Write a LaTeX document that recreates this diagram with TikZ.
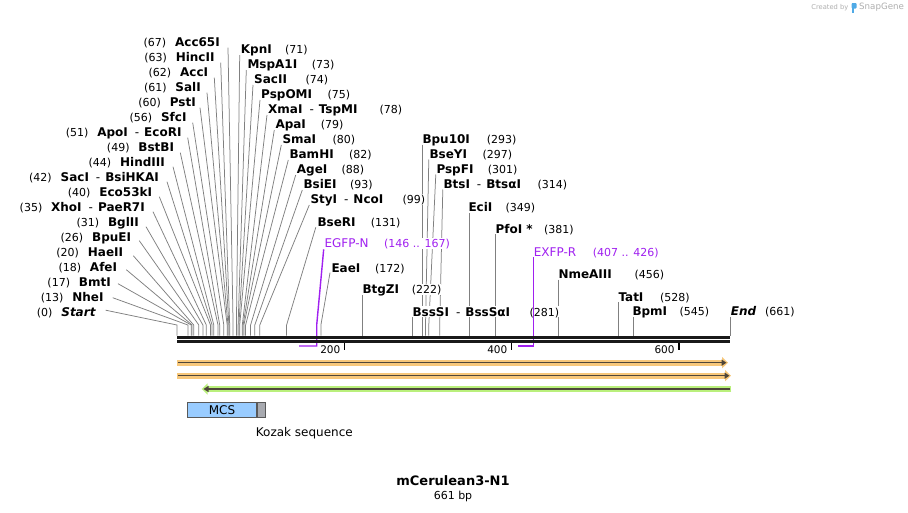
\documentclass[tikz,border=0pt]{standalone}
\usepackage{fontspec}
\setmainfont{DejaVu Sans}
\usetikzlibrary{arrows.meta,positioning,backgrounds}

\definecolor{sitegray}{RGB}{128,128,128}
\definecolor{primerviolet}{RGB}{160,32,240}
\definecolor{featorange}{RGB}{247,199,122}
\definecolor{featgreen}{RGB}{186,240,124}
\definecolor{featcore}{RGB}{78,70,58}
\definecolor{mcsblue}{RGB}{153,204,255}
\definecolor{kozakgray}{RGB}{168,170,176}
\definecolor{sgblue}{RGB}{80,170,230}
\definecolor{sggray}{RGB}{175,175,175}

\newcommand{\enzdash}{\hspace{7pt}{\mdseries -}\hspace{5pt}}

\tikzset{
    enz/.style    = {inner sep=0pt, fill=white, text height=10pt, text depth=1pt, font=\fontsize{12}{14}\selectfont\bfseries},
    enzL/.style   = {enz, anchor=east},
    enzR/.style   = {enz, anchor=west},
    bpnum/.style  = {inner sep=0pt, fill=white, text height=10pt, text depth=1pt, font=\fontsize{11}{13}\selectfont},
    bpnumR/.style = {bpnum, anchor=west},
    cut/.style    = {draw=sitegray, line width=0.75pt},
    primer/.style = {draw=primerviolet, line width=1.4pt},
    plabel/.style = {bpnum, anchor=west, text=primerviolet, font=\fontsize{12}{14}\selectfont},
    pnum/.style   = {bpnumR, text=primerviolet}
}

\begin{document}
\begin{tikzpicture}[x=1pt, y=-1pt,
        band/.style = {line width=6pt, -{Triangle[length=6pt, width=11pt]}},
        core/.style = {draw=featcore, line width=1.5pt, -{Triangle[length=5pt, width=6pt]}},
        rulertick/.style = {line width=1.6pt, draw=black},
        ticklbl/.style = {anchor=east, inner sep=0pt, text height=10pt, text depth=1pt, font=\fontsize{10.5}{12}\selectfont}
    ]
    \useasboundingbox (0,0) rectangle (908,512);

    % Cut sites on the sequence (x = 177 + 0.8366 * bp)
    \coordinate (s0) at (177.0,325);
    \coordinate (s13) at (187.9,325);
    \coordinate (s17) at (191.2,325);
    \coordinate (s18) at (192.1,325);
    \coordinate (s20) at (193.7,325);
    \coordinate (s26) at (198.8,325);
    \coordinate (s31) at (202.9,325);
    \coordinate (s35) at (206.3,325);
    \coordinate (s40) at (210.5,325);
    \coordinate (s42) at (212.1,325);
    \coordinate (s44) at (213.8,325);
    \coordinate (s49) at (218.0,325);
    \coordinate (s51) at (219.7,325);
    \coordinate (s56) at (223.8,325);
    \coordinate (s60) at (227.2,325);
    \coordinate (s61) at (228.0,325);
    \coordinate (s62) at (228.9,325);
    \coordinate (s63) at (229.7,325);
    \coordinate (s67) at (233.1,325);
    \coordinate (s71) at (236.4,325);
    \coordinate (s73) at (238.1,325);
    \coordinate (s74) at (238.9,325);
    \coordinate (s75) at (239.7,325);
    \coordinate (s78) at (242.3,325);
    \coordinate (s79) at (243.1,325);
    \coordinate (s80) at (243.9,325);
    \coordinate (s82) at (245.6,325);
    \coordinate (s88) at (250.6,325);
    \coordinate (s93) at (254.8,325);
    \coordinate (s99) at (259.8,325);
    \coordinate (s131) at (286.6,325);
    \coordinate (s172) at (320.9,325);
    \coordinate (s222) at (362.7,325);
    \coordinate (s281) at (412.1,325);
    \coordinate (s293) at (422.1,325);
    \coordinate (s297) at (425.5,325);
    \coordinate (s301) at (428.8,325);
    \coordinate (s314) at (439.7,325);
    \coordinate (s349) at (469.0,325);
    \coordinate (s381) at (495.7,325);
    \coordinate (s456) at (558.5,325);
    \coordinate (s528) at (618.7,325);
    \coordinate (s545) at (633.0,325);
    \coordinate (s661) at (730.0,325);
    \coordinate (bar) at (177,335.7);

    % Left stack (number, then name)
    \node[enzL] (seqstart) at (95.7,311.7) {\itshape Start};
    \node[enzL] (nheI) at (103.7,296.7) {NheI};
    \node[enzL] (bmtI) at (111,281.7) {BmtI};
    \node[enzL] (afeI) at (117.3,266.7) {AfeI};
    \node[enzL] (haeII) at (123.3,251.7) {HaeII};
    \node[enzL] (bpuEI) at (131.3,236.7) {BpuEI};
    \node[enzL] (bglII) at (139,221.7) {BglII};
    \node[enzL] (xhoI) at (145,206.7) {XhoI\enzdash PaeR7I};
    \node[enzL] (eco53kI) at (152.3,191.7) {Eco53kI};
    \node[enzL] (sacI) at (159,176.7) {SacI\enzdash BsiHKAI};
    \node[enzL] (hindIII) at (165,161.7) {HindIII};
    \node[enzL] (bstBI) at (174.3,146.7) {BstBI};
    \node[enzL] (apoI) at (181.7,131.7) {ApoI\enzdash EcoRI};
    \node[enzL] (sfcI) at (186.7,116.7) {SfcI};
    \node[enzL] (pstI) at (196,101.7) {PstI};
    \node[enzL] (salI) at (201,86.7) {SalI};
    \node[enzL] (accI) at (208.3,71.7) {AccI};
    \node[enzL] (hincII) at (214.7,56.7) {HincII};
    \node[enzL] (acc65I) at (220,41.7) {Acc65I};

    \node[bpnum, left=8.5pt of seqstart] (seqstartbp) {(0)};
    \node[bpnum, left=8.5pt of nheI] (nheIbp) {(13)};
    \node[bpnum, left=8.5pt of bmtI] (bmtIbp) {(17)};
    \node[bpnum, left=8.5pt of afeI] (afeIbp) {(18)};
    \node[bpnum, left=8.5pt of haeII] (haeIIbp) {(20)};
    \node[bpnum, left=8.5pt of bpuEI] (bpuEIbp) {(26)};
    \node[bpnum, left=8.5pt of bglII] (bglIIbp) {(31)};
    \node[bpnum, left=8.5pt of xhoI] (xhoIbp) {(35)};
    \node[bpnum, left=8.5pt of eco53kI] (eco53kIbp) {(40)};
    \node[bpnum, left=8.5pt of sacI] (sacIbp) {(42)};
    \node[bpnum, left=8.5pt of hindIII] (hindIIIbp) {(44)};
    \node[bpnum, left=8.5pt of bstBI] (bstBIbp) {(49)};
    \node[bpnum, left=8.5pt of apoI] (apoIbp) {(51)};
    \node[bpnum, left=8.5pt of sfcI] (sfcIbp) {(56)};
    \node[bpnum, left=8.5pt of pstI] (pstIbp) {(60)};
    \node[bpnum, left=8.5pt of salI] (salIbp) {(61)};
    \node[bpnum, left=8.5pt of accI] (accIbp) {(62)};
    \node[bpnum, left=8.5pt of hincII] (hincIIbp) {(63)};
    \node[bpnum, left=8.5pt of acc65I] (acc65Ibp) {(67)};

    % Right stack (name, then number)
    \node[enzR] (kpnI) at (240.7,49) {KpnI};
    \node[enzR] (mspA1I) at (247.3,64) {MspA1I};
    \node[enzR] (sacII) at (254,79) {SacII};
    \node[enzR] (pspOMI) at (261,94) {PspOMI};
    \node[enzR] (xmaI) at (268,109) {XmaI\enzdash TspMI};
    \node[enzR] (apaI) at (275.3,124) {ApaI};
    \node[enzR] (smaI) at (282.3,139) {SmaI};
    \node[enzR] (bamHI) at (289.3,154) {BamHI};
    \node[enzR] (ageI) at (296.7,169) {AgeI};
    \node[enzR] (bsiEI) at (303.3,184) {BsiEI};
    \node[enzR] (styI) at (310.3,199) {StyI\enzdash NcoI};
    \node[enzR] (bseRI) at (317.3,222.3) {BseRI};

    \node[bpnumR] (kpnIbp) at (285,49) {(71)};
    \node[bpnumR] (mspA1Ibp) at (311.7,64) {(73)};
    \node[bpnumR] (sacIIbp) at (305.3,79) {(74)};
    \node[bpnumR] (pspOMIbp) at (327.3,94) {(75)};
    \node[bpnumR] (xmaIbp) at (379.3,109) {(78)};
    \node[bpnumR] (apaIbp) at (320.7,124) {(79)};
    \node[bpnumR] (smaIbp) at (332.3,139) {(80)};
    \node[bpnumR] (bamHIbp) at (349,154) {(82)};
    \node[bpnumR] (ageIbp) at (341.3,169) {(88)};
    \node[bpnumR] (bsiEIbp) at (350,184) {(93)};
    \node[bpnumR] (styIbp) at (402.3,199) {(99)};
    \node[bpnumR] (bseRIbp) at (370.7,222.3) {(131)};

    % Middle and right labels
    \node[enzR] (bpu10I) at (422.3,139) {Bpu10I};
    \node[enzR] (bseYI) at (429.3,154) {BseYI};
    \node[enzR] (pspFI) at (436.3,169) {PspFI};
    \node[enzR] (btsI) at (443.3,184) {BtsI\enzdash BtsαI};
    \node[enzR] (eciI) at (468.3,207.3) {EciI};
    \node[enzR] (pfoI) at (495.3,228.7) {PfoI *};
    \node[enzR] (eaeI) at (331.3,267.7) {EaeI};
    \node[enzR] (btgZI) at (362.3,289.3) {BtgZI};
    \node[enzR] (bssSI) at (412.3,311.7) {BssSI\enzdash BssSαI};
    \node[enzR] (nmeAIII) at (558.3,274) {NmeAIII};
    \node[enzR] (tatI) at (618.3,296.7) {TatI};
    \node[enzR] (bpmI) at (632.3,311.3) {BpmI};
    \node[enzR] (seqend) at (730.7,311) {\itshape End};

    \node[bpnumR] (bpu10Ibp) at (486.7,139) {(293)};
    \node[bpnumR] (bseYIbp) at (482.3,154) {(297)};
    \node[bpnumR] (pspFIbp) at (487.7,169) {(301)};
    \node[bpnumR] (btsIbp) at (537.3,184) {(314)};
    \node[bpnumR] (eciIbp) at (505.3,207.3) {(349)};
    \node[bpnumR] (pfoIbp) at (544,228.7) {(381)};
    \node[bpnumR] (eaeIbp) at (375,267.7) {(172)};
    \node[bpnumR] (btgZIbp) at (411.7,289.3) {(222)};
    \node[bpnumR] (bssSIbp) at (529.3,311.7) {(281)};
    \node[bpnumR] (nmeAIIIbp) at (634.5,274) {(456)};
    \node[bpnumR] (tatIbp) at (660,296.7) {(528)};
    \node[bpnumR] (bpmIbp) at (679.3,311.3) {(545)};
    \node[bpnumR] (seqendbp) at (765,311) {(661)};

    % Primers
    \node[plabel] (egfpN) at (324.3,243.3) {EGFP-N};
    \node[pnum] (egfpNbp) at (384,243.3) {(146 .. 167)};
    \node[plabel] (exfpR) at (533.7,251.7) {EXFP-R};
    \node[pnum] (exfpRbp) at (592.7,251.7) {(407 .. 426)};
    \coordinate (p146) at (299.1,346);
    \coordinate (p167) at (316.7,346);
    \coordinate (p407) at (517.5,346);
    \coordinate (p426) at (533.4,346);

    \begin{scope}[on background layer]
        \fill[white] (0,0) rectangle (908,512);
        % left stack connectors
        \draw[cut] ([shift={(10,-1.5)}]seqstart.east) -- (s0) -- (s0 |- bar);
        \draw[cut] ([shift={(9,1)}]nheI.east) -- (s13) -- (s13 |- bar);
        \draw[cut] ([shift={(7,2)}]bmtI.east) -- (s17) -- (s17 |- bar);
        \draw[cut] ([shift={(9,3)}]afeI.east) -- (s18) -- (s18 |- bar);
        \draw[cut] ([shift={(10,4)}]haeII.east) -- (s20) -- (s20 |- bar);
        \draw[cut] ([shift={(8,4)}]bpuEI.east) -- (s26) -- (s26 |- bar);
        \draw[cut] ([shift={(7,5)}]bglII.east) -- (s31) -- (s31 |- bar);
        \draw[cut] ([shift={(8,5)}]xhoI.east) -- (s35) -- (s35 |- bar);
        \draw[cut] ([shift={(7,5)}]eco53kI.east) -- (s40) -- (s40 |- bar);
        \draw[cut] ([shift={(8,5)}]sacI.east) -- (s42) -- (s42 |- bar);
        \draw[cut] ([shift={(8,5)}]hindIII.east) -- (s44) -- (s44 |- bar);
        \draw[cut] ([shift={(6,6)}]bstBI.east) -- (s49) -- (s49 |- bar);
        \draw[cut] ([shift={(6,6)}]apoI.east) -- (s51) -- (s51 |- bar);
        \draw[cut] ([shift={(6,6)}]sfcI.east) -- (s56) -- (s56 |- bar);
        \draw[cut] ([shift={(4,6)}]pstI.east) -- (s60) -- (s60 |- bar);
        \draw[cut] ([shift={(6,6)}]salI.east) -- (s61) -- (s61 |- bar);
        \draw[cut] ([shift={(6,6)}]accI.east) -- (s62) -- (s62 |- bar);
        \draw[cut] ([shift={(6,6)}]hincII.east) -- (s63) -- (s63 |- bar);
        \draw[cut] ([shift={(8,6)}]acc65I.east) -- (s67) -- (s67 |- bar);
        % right stack connectors
        \draw[cut] ([shift={(-1,6)}]kpnI.west) -- (s71) -- (s71 |- bar);
        \draw[cut] ([shift={(-1,6)}]mspA1I.west) -- (s73) -- (s73 |- bar);
        \draw[cut] ([shift={(-1,6)}]sacII.west) -- (s74) -- (s74 |- bar);
        \draw[cut] ([shift={(-1,6)}]pspOMI.west) -- (s75) -- (s75 |- bar);
        \draw[cut] ([shift={(-1,6)}]xmaI.west) -- (s78) -- (s78 |- bar);
        \draw[cut] ([shift={(-1,6)}]apaI.west) -- (s79) -- (s79 |- bar);
        \draw[cut] ([shift={(-1,6)}]smaI.west) -- (s80) -- (s80 |- bar);
        \draw[cut] ([shift={(-1,6)}]bamHI.west) -- (s82) -- (s82 |- bar);
        \draw[cut] ([shift={(-1,6)}]ageI.west) -- (s88) -- (s88 |- bar);
        \draw[cut] ([shift={(-1,6)}]bsiEI.west) -- (s93) -- (s93 |- bar);
        \draw[cut] ([shift={(-1,6)}]styI.west) -- (s99) -- (s99 |- bar);
        \draw[cut] ([shift={(-1.5,5)}]bseRI.west) -- (s131) -- (s131 |- bar);
        % middle connectors
        \draw[cut] ([shift={(-1.3,5)}]eaeI.west) -- (s172) -- (s172 |- bar);
        \draw[cut] ([shift={(-0.5,5.5)}]bseYI.west) -- (s297) -- (s297 |- bar);
        \draw[cut] ([shift={(-0.5,5.5)}]pspFI.west) -- (s301) -- (s301 |- bar);
        \draw[cut] ([shift={(-0.5,5.5)}]btsI.west) -- (s314) -- (s314 |- bar);
        \draw[cut] (s293 |- bpu10I.south) -- (s293 |- bar);
        \draw[cut] (s349 |- eciI.south) -- (s349 |- bar);
        \draw[cut] (s381 |- pfoI.south) -- (s381 |- bar);
        \draw[cut] (s222 |- btgZI.south) -- (s222 |- bar);
        \draw[cut] (s281 |- bssSI.south) -- (s281 |- bar);
        \draw[cut] (s456 |- nmeAIII.south) -- (s456 |- bar);
        \draw[cut] (s528 |- tatI.south) -- (s528 |- bar);
        \draw[cut] (s545 |- bpmI.south) -- (s545 |- bar);
        \draw[cut] (s661 |- seqend.south) -- (s661 |- bar);
    \end{scope}

    \draw[primer] ([shift={(-0.6,6)}]egfpN.west) -- (p167 |- s0) -- (p167) -- (p146);
    \draw[primer] (p426 |- exfpR.south) -- (p426) -- (p407);

    % Sequence bar and ruler
    \draw[line width=3pt, black!90] (177,337.2) -- (730,337.2);
    \draw[line width=2.3pt, black!90] (177,341.5) -- (730,341.5);
    \draw[rulertick] (344.3,342.5) -- (344.3,349.5);
    \draw[rulertick] (511.6,342.5) -- (511.6,349.5);
    \draw[rulertick] (678.9,342.5) -- (678.9,349.5);
    \node[ticklbl] (t200) at (340.5,348.5) {200};
    \node[ticklbl] (t400) at (507.5,348.5) {400};
    \node[ticklbl] (t600) at (674.8,348.5) {600};

    % Features
    \draw[band, draw=featorange, fill=featorange] (177,362.7) -- (728,362.7);
    \draw[core] (178,362.7) -- (726.5,362.7);
    \draw[band, draw=featorange, fill=featorange] (177,375.7) -- (731,375.7);
    \draw[core] (178,375.7) -- (729.5,375.7);
    \draw[band, draw=featgreen, fill=featgreen] (731,389) -- (201.7,389);
    \draw[core] (730,389) -- (203.5,389);

    \node[draw=black!65, line width=0.8pt, fill=mcsblue, anchor=north west, inner sep=0pt,
          minimum width=68.5pt, minimum height=15.6pt, font=\fontsize{12}{14}\selectfont] (mcs) at (187.3,401.7) {MCS};
    \node[draw=black!65, line width=0.8pt, fill=kozakgray, anchor=west, inner sep=0pt,
          minimum width=8.8pt, minimum height=15.6pt] (kozak) at (mcs.east) {};
    \node[bpnumR, font=\fontsize{12}{14}\selectfont] (kozaklbl) at (255.7,431.7) {Kozak sequence};

    % Title
    \node[inner sep=0pt, font=\fontsize{13}{15}\selectfont\bfseries] (title) at (453,481) {mCerulean3-N1};
    \node[inner sep=0pt, font=\fontsize{11}{13}\selectfont] (bplen) at (453,496) {661 bp};

    % Watermark
    \node[anchor=east, inner sep=0pt, text=sggray, font=\fontsize{6.7}{8}\selectfont] (createdby) at (848.5,7.5) {Created by};
    \fill[sgblue, rounded corners=1pt] (851.5,3) rectangle (856.5,8.5);
    \fill[sgblue] (851.5,3) rectangle (853.5,12.5);
    \node[anchor=west, inner sep=0pt, text=sggray, font=\fontsize{8.7}{10}\selectfont] (snapgene) at (859,7.5) {SnapGene};
\end{tikzpicture}
\end{document}
